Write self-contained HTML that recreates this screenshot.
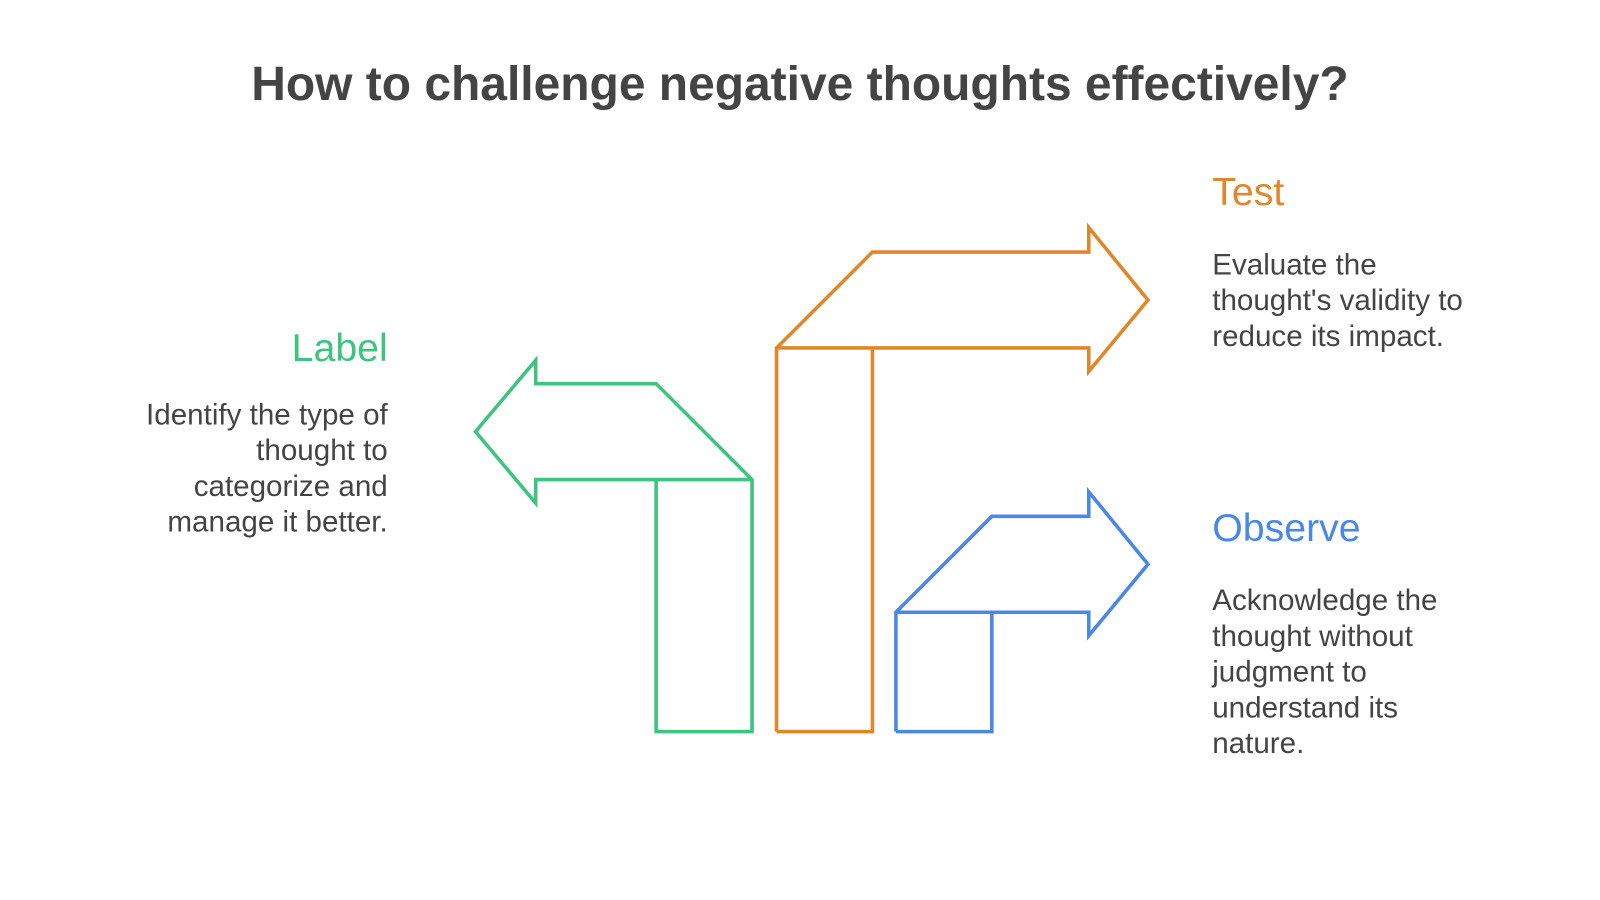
<!DOCTYPE html>
<html><head><meta charset="utf-8"><style>
body{margin:0;background:#fff;width:1600px;height:900px;overflow:hidden;font-family:"Liberation Sans",sans-serif;}
</style></head><body>
<svg width="1600" height="900" viewBox="0 0 1568 882" xmlns="http://www.w3.org/2000/svg" style="position:absolute;left:0;top:0">
<text x="784" y="98" text-anchor="middle" font-family="Liberation Sans, sans-serif" font-weight="bold" font-size="47" fill="#444">How to challenge negative thoughts effectively?</text>
<g fill="none" stroke-width="3.5" stroke-linejoin="miter">
<path d="M643,717 V470 H525 V493 L466,423 L525,353 V376 H643 L737,470 V717 Z M737,470 H643" stroke="#3ec47e"/>
<path d="M761,717 V341 L855,247 H1067 V223 L1125,294 L1067,364 V341 H761 M855,341 V717 H761" stroke="#e0862c"/>
<path d="M878,717 V600 L972,506 H1067 V482 L1125,553 L1067,623 V600 H878 M972,600 V717 H878" stroke="#4a87e6"/>
</g>
<g font-family="Liberation Sans, sans-serif">
<text x="380" y="354" text-anchor="end" font-size="38.5" fill="#3ec47e">Label</text>
<g font-size="29" fill="#444" text-anchor="end">
<text x="380" y="416">Identify the type of</text>
<text x="380" y="451">thought to</text>
<text x="380" y="486">categorize and</text>
<text x="380" y="521">manage it better.</text>
</g>
<text x="1188" y="201" font-size="38.5" fill="#e0862c">Test</text>
<g font-size="29" fill="#444">
<text x="1188" y="269">Evaluate the</text>
<text x="1188" y="304">thought's validity to</text>
<text x="1188" y="339">reduce its impact.</text>
</g>
<text x="1188" y="530" font-size="38.5" fill="#4a87e6">Observe</text>
<g font-size="29" fill="#444">
<text x="1188" y="598">Acknowledge the</text>
<text x="1188" y="633">thought without</text>
<text x="1188" y="668">judgment to</text>
<text x="1188" y="703">understand its</text>
<text x="1188" y="738">nature.</text>
</g>
</g>
</svg>
</body></html>
